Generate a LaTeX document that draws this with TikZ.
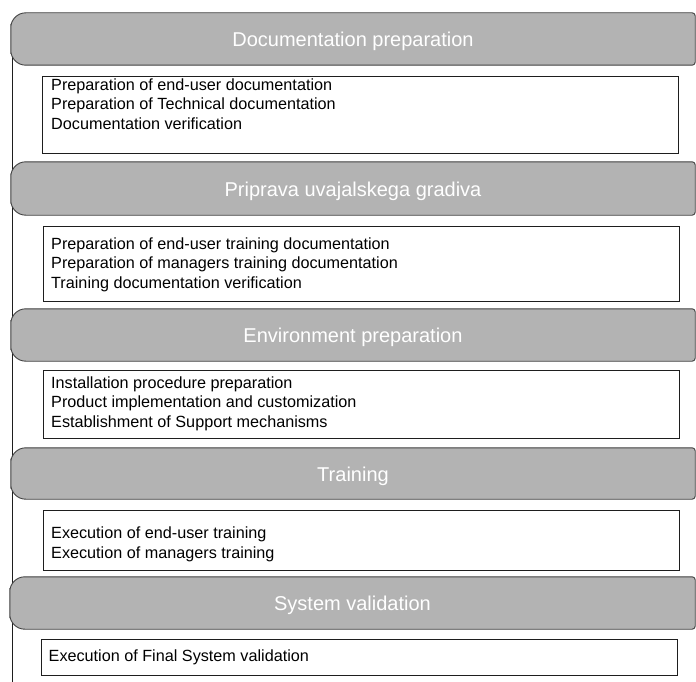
\documentclass[tikz,border=0pt]{standalone}
\usepackage{fontspec}
\setmainfont{Liberation Sans}
\usetikzlibrary{backgrounds}
\definecolor{bannergray}{RGB}{179,179,179}
\definecolor{bannerline}{RGB}{64,64,64}
\definecolor{boxline}{RGB}{30,30,30}
\begin{document}
\begin{tikzpicture}[x=1pt,y=-1pt,
  banner/.style={rectangle, draw=none, inner sep=0pt, text=white,
    font=\fontsize{20}{24}\selectfont, text height=15pt, text depth=0pt,
    minimum width=684pt},
  bannershape/.style={fill=bannergray, draw=bannerline, line width=0.9pt},
  taskbox/.style={rectangle, draw=boxline, line width=0.8pt, inner sep=0pt,
    minimum width=636pt},
  tasklist/.style={anchor=base west, inner sep=0pt, align=left,
    font=\fontsize{16.2}{19.5}\selectfont},
  rail/.style={draw=boxline, line width=0.8pt}]

\useasboundingbox (0,0) rectangle (696,682);

% phase headers
\node[banner, minimum height=52pt] (b1) at (353,39)    {Documentation preparation};
\node[banner, minimum height=53pt] (b2) at (353,188.5) {Priprava uvajalskega gradiva};
\node[banner, minimum height=52pt] (b3) at (353,335)   {Environment preparation};
\node[banner, minimum height=51pt] (b4) at (353,473.5) {Training};
\node[banner, minimum height=52pt, minimum width=685pt] (b5) at (352.5,603) {System validation};

% task boxes
\node[taskbox, minimum height=77pt] (k1) at (360,114.5) {};
\node[taskbox, minimum height=75pt] (k2) at (361,263.5) {};
\node[taskbox, minimum height=68pt] (k3) at (361,404)   {};
\node[taskbox, minimum height=60pt] (k4) at (361,540)   {};
\node[taskbox, minimum height=36pt] (k5) at (359,657)   {};

% task lists (anchored on the baseline of the last line)
\node[tasklist] (t1) at (51,129.3) {Preparation of end-user documentation\\Preparation of Technical documentation\\Documentation verification};
\node[tasklist] (t2) at (51,288) {Preparation of end-user training documentation\\Preparation of managers training documentation\\Training documentation verification};
\node[tasklist] (t3) at (51,427) {Installation procedure preparation\\Product implementation and customization\\Establishment of Support mechanisms};
\node[tasklist] (t4) at (51,558) {Execution of end-user training\\Execution of managers training};
\node[tasklist] (t5) at (48.5,661.5) {Execution of Final System validation};

\coordinate (railend) at (12,682);

\begin{scope}[on background layer]
  \draw[rail] (b1.west -| railend) -- (railend);
  \foreach \b in {b1,b2,b3,b4,b5}{
    \draw[bannershape] (\b.north) [rounded corners=3pt] -| (\b.east) |- (\b.south)
      [rounded corners=15pt] -| (\b.west) |- (\b.north);
  }
\end{scope}
\end{tikzpicture}
\end{document}
